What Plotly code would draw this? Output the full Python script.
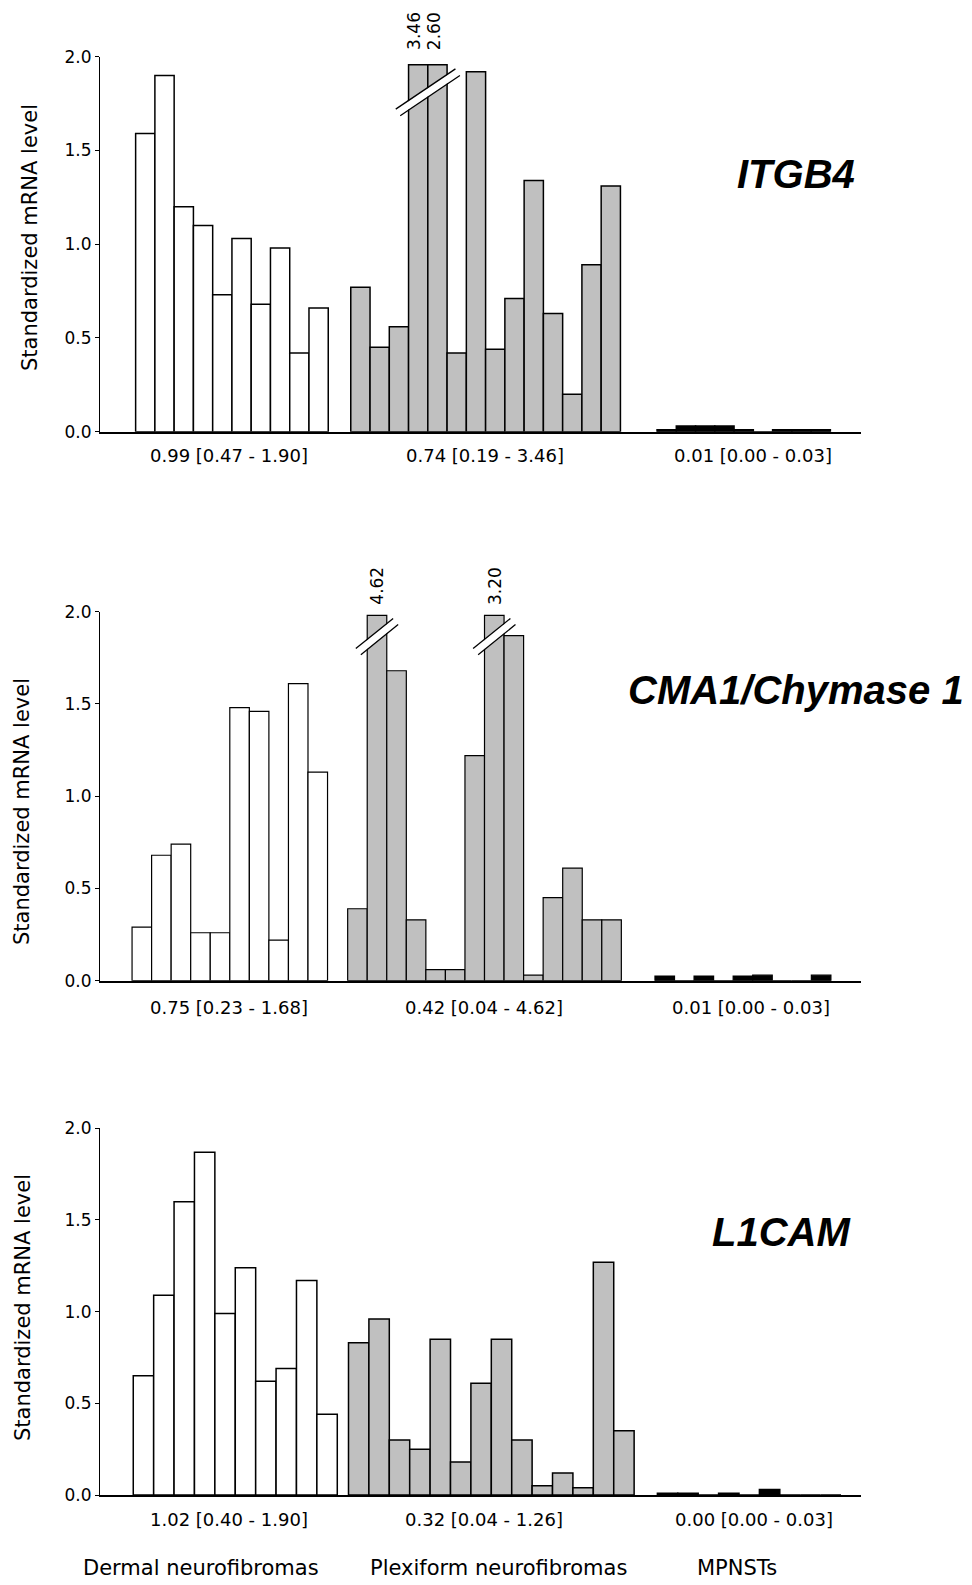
import math
import plotly.graph_objects as go

W, H = 972, 1585

# ---------------- data ----------------
group_names = ["Dermal neurofibromas", "Plexiform neurofibromas", "MPNSTs"]

itgb4_dermal = [1.59, 1.90, 1.20, 1.10, 0.73, 1.03, 0.68, 0.98, 0.42, 0.66]
itgb4_plexiform = [0.77, 0.45, 0.56, 3.46, 2.60, 0.42, 1.92, 0.44, 0.71, 1.34, 0.63, 0.20, 0.89, 1.31]
itgb4_mpnst = [0.01, 0.03, 0.03, 0.03, 0.01, 0.00, 0.01, 0.01, 0.01]
itgb4_stats = ["0.99 [0.47 - 1.90]", "0.74 [0.19 - 3.46]", "0.01 [0.00 - 0.03]"]

cma1_dermal = [0.29, 0.68, 0.74, 0.26, 0.26, 1.48, 1.46, 0.22, 1.61, 1.13]
cma1_plexiform = [0.39, 4.62, 1.68, 0.33, 0.06, 0.06, 1.22, 3.20, 1.87, 0.03, 0.45, 0.61, 0.33, 0.33]
cma1_mpnst = [0.025, 0.00, 0.025, 0.00, 0.025, 0.03, 0.00, 0.00, 0.03]
cma1_stats = ["0.75 [0.23 - 1.68]", "0.42 [0.04 - 4.62]", "0.01 [0.00 - 0.03]"]

l1cam_dermal = [0.65, 1.09, 1.60, 1.87, 0.99, 1.24, 0.62, 0.69, 1.17, 0.44]
l1cam_plexiform = [0.83, 0.96, 0.30, 0.25, 0.85, 0.18, 0.61, 0.85, 0.30, 0.05, 0.12, 0.04, 1.27, 0.35]
l1cam_mpnst = [0.01, 0.01, 0.00, 0.01, 0.00, 0.03, 0.00, 0.00, 0.00]
l1cam_stats = ["1.02 [0.40 - 1.90]", "0.32 [0.04 - 1.26]", "0.00 [0.00 - 0.03]"]

gene_names = ["ITGB4", "CMA1/Chymase 1", "L1CAM"]
y_title = "Standardized mRNA level"

# ---------------- layout / style ----------------
fills = ["white", "#c0c0c0", "black"]
FONT = "DejaVu Sans"
PAGE_OFFSET = 8  # default page margin around the figure div

panels = [
    dict(data=(itgb4_dermal, itgb4_plexiform, itgb4_mpnst), stats=itgb4_stats,
         offsets=(0, 11.17, 27.07), xrange=(-2.35, 37.16), ypx=(56.7, 431.7), cap=1.957,
         lw=1.5, breaks=[(3.5, 1.81, 36, 34)], stat_px=[(229, 455), (485, 455), (753, 455)],
         gene_px=(796, 174), ytitle_px=(30, 238), lab_shift=-4),
    dict(data=(cma1_dermal, cma1_plexiform, cma1_mpnst), stats=cma1_stats,
         offsets=(0, 11.03, 26.75), xrange=(-2.14, 36.79), ypx=(611.7, 980.7), cap=1.98,
         lw=1.2, breaks=[(1, 1.865, 24, 39), (7, 1.865, 24, 39)],
         stat_px=[(229, 1008), (484, 1008), (751, 1008)],
         gene_px=(796, 690), ytitle_px=(22, 812), lab_shift=0),
    dict(data=(l1cam_dermal, l1cam_plexiform, l1cam_mpnst), stats=l1cam_stats,
         offsets=(0, 10.55, 25.69), xrange=(-2.13, 35.17), ypx=(1128.3, 1495.0), cap=2.0,
         lw=1.5, breaks=[], stat_px=[(229, 1519), (484, 1519), (754, 1519)],
         gene_px=(781, 1232), ytitle_px=(23, 1308), lab_shift=0),
]
group_label_px = [(201, 1568), (498, 1568), (737, 1568)]


def px(x):
    return (x - PAGE_OFFSET) / W


def py(y):
    return 1 - (y - PAGE_OFFSET) / H


XDOM = [px(100), px(861)]

fig = go.Figure()
layout = dict(
    width=W, height=H, margin=dict(l=0, r=0, t=0, b=0, autoexpand=False),
    paper_bgcolor="white", plot_bgcolor="white", barmode="overlay",
    showlegend=False, font=dict(family=FONT, color="black"),
)
annotations = []
shapes = []


def paper_text(x, y, text, size, family=FONT, angle=0):
    return dict(x=px(x), y=py(y), xref="paper", yref="paper", text=text, showarrow=False,
                xanchor="center", yanchor="middle", textangle=angle,
                font=dict(size=size, family=family, color="black"))


for k, p in enumerate(panels):
    n = "" if k == 0 else str(k + 1)
    xa, ya = "x" + n, "y" + n
    for g, vals in enumerate(p["data"]):
        xs = [p["offsets"][g] + i for i in range(len(vals))]
        ys = [min(v, p["cap"]) for v in vals]
        fig.add_trace(go.Bar(
            x=xs, y=ys, width=1, xaxis=xa, yaxis=ya,
            marker=dict(color=fills[g], line=dict(color="black", width=p["lw"])),
            hoverinfo="skip",
        ))
        # labels for values beyond the broken axis
        for i, v in enumerate(vals):
            if v > 2.0:
                annotations.append(dict(
                    x=xs[i], y=2.0, xref=xa, yref=ya, text=f"{v:.2f}", showarrow=False,
                    textangle=-90, yanchor="bottom", xanchor="center", yshift=5,
                    xshift=p["lab_shift"], font=dict(size=17, family=FONT, color="black")))
    # axis-break marks
    for (bi, by, L, ang) in p["breaks"]:
        xb = p["offsets"][1] + bi
        t = math.radians(ang)
        dx, dy = L * math.cos(t), L * math.sin(t)
        nx, ny = -math.sin(t) * 4.0, math.cos(t) * 4.0
        common = dict(type="line", xref=xa, yref=ya, xsizemode="pixel", ysizemode="pixel",
                      xanchor=xb, yanchor=by, layer="above")
        shapes.append(dict(common, x0=-dx, y0=-dy, x1=dx, y1=dy,
                           line=dict(color="white", width=7)))
        for s in (1, -1):
            shapes.append(dict(common, x0=-dx + s * nx, y0=-dy + s * ny,
                               x1=dx + s * nx, y1=dy + s * ny,
                               line=dict(color="black", width=1.3)))
    ydom = [py(p["ypx"][1]), py(p["ypx"][0])]
    layout["xaxis" + n] = dict(
        domain=XDOM, range=list(p["xrange"]), anchor=ya, showline=True, linecolor="black",
        linewidth=1.5, showticklabels=False, ticks="", showgrid=False, zeroline=False,
        fixedrange=True, automargin=False)
    layout["yaxis" + n] = dict(
        domain=ydom, range=[0, 2.0], anchor=xa, showline=True, linecolor="black", linewidth=1.2,
        ticks="outside", ticklen=4, tickwidth=1, tickcolor="black", tick0=0, dtick=0.5,
        tickformat=".1f", showgrid=False, zeroline=False, automargin=False,
        tickfont=dict(size=17, family=FONT, color="black"), fixedrange=True)
    # stats under groups
    for g in range(3):
        sx, sy = p["stat_px"][g]
        annotations.append(paper_text(sx, sy, p["stats"][g], 18))
    gx, gy = p["gene_px"]
    annotations.append(paper_text(gx, gy, f"<b><i>{gene_names[k]}</i></b>", 40,
                                  family="Liberation Sans"))
    tx, ty = p["ytitle_px"]
    annotations.append(paper_text(tx, ty, y_title, 21, angle=-90))

for g in range(3):
    lx, ly = group_label_px[g]
    annotations.append(paper_text(lx, ly, group_names[g], 21))

layout["annotations"] = annotations
layout["shapes"] = shapes
fig.update_layout(**layout)
fig.write_html("out.html")
